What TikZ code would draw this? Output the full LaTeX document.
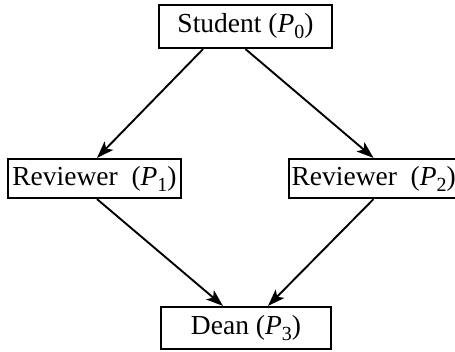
\documentclass[tikz,border=0pt]{standalone}
\usepackage{fontspec}
\setmainfont{Liberation Serif}
\usetikzlibrary{arrows.meta}
% lowered index digit set in the text font
\newcommand\lowidx[1]{\raisebox{-0.22em}{\fontsize{20}{21}\selectfont #1}}
\newcommand\proc[1]{(\textit{P}\lowidx{#1})}
\begin{document}
\begin{tikzpicture}[x=1pt,y=-1pt,
  box/.style={draw,line width=2.2pt,inner sep=0pt,align=center,
    font=\fontsize{27.5}{32}\selectfont},
  flow/.style={line width=1.9pt,-{Stealth[length=17pt,width=12pt,inset=4pt]}}]
\useasboundingbox (0,0) rectangle (455,352);
\node[box,minimum width=173pt,minimum height=43pt] (s) at (245.5,26.5) {Student \proc{0}};
\node[box,minimum width=173pt,minimum height=39pt] (r1) at (94.5,178.5) {Reviewer\ \ \proc{1}};
\node[box,inner xsep=2.5pt,text width=172pt,align=flush left,minimum height=39pt,anchor=west] (r2) at (288,178.5) {\mbox{Reviewer\ \ \proc{2}}};
\node[box,minimum width=170pt,minimum height=42pt] (d) at (246,328) {Dean \proc{3}};
\draw[flow] ([xshift=-42.5pt]s.south) -- ([xshift=2.5pt]r1.north);
\draw[flow] (s.south) -- ([xshift=85.5pt]r2.south west |- r2.north);
\draw[flow] ([xshift=2.5pt]r1.south) -- ([xshift=-23pt]d.north);
\draw[flow] ([xshift=85.5pt]r2.south west) -- ([xshift=22pt]d.north);
\end{tikzpicture}
\end{document}
